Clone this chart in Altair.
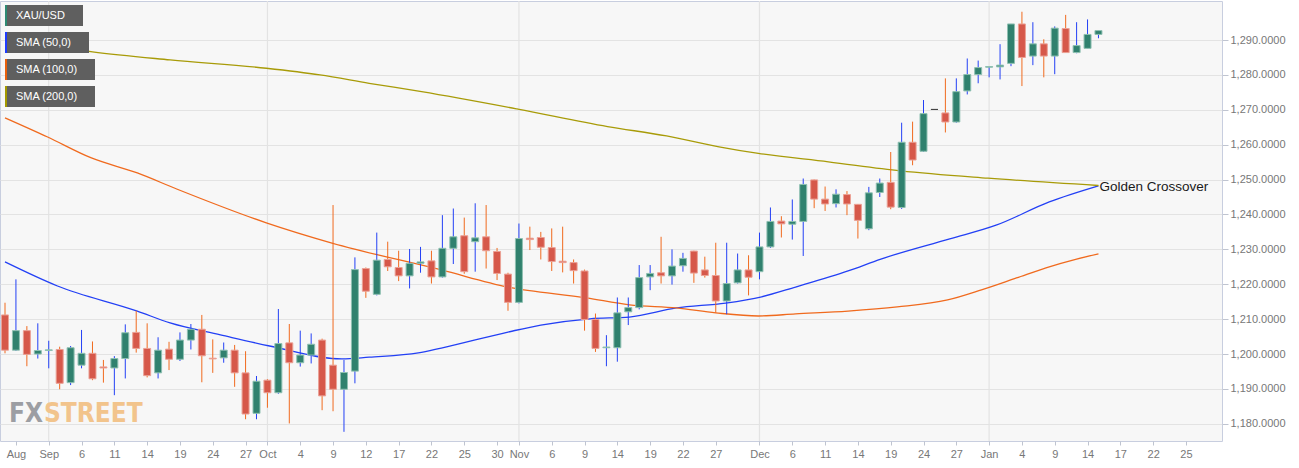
import altair as alt
import pandas as pd

# ---------------- data ----------------
# candle index = weekday count starting Tue 28 Aug 2018 (0) ... Tue 15 Jan 2019 (100)
opens = [1211.2, 1201.1, 1206.7, 1200.0, 1201.0, 1201.3, 1191.8, 1196.8, 1200.2, 1196.3,
         1196.0, 1198.7, 1206.2, 1201.6, 1194.6, 1201.4, 1198.5, 1204.0, 1207.1, 1198.8,
         1198.9, 1201.1, 1194.6, 1183.0, 1192.5, 1188.9, 1203.2, 1197.5, 1199.7, 1204.0,
         1196.8, 1189.9, 1195.1, 1224.5, 1217.1, 1227.1, 1224.8, 1222.4, 1226.0, 1226.7,
         1222.1, 1230.3, 1233.9, 1232.2, 1233.6, 1229.4, 1222.9, 1214.8, 1233.2, 1233.4,
         1230.5, 1226.6, 1226.2, 1223.8, 1209.9, 1201.8, 1201.8, 1212.1, 1213.3, 1222.1,
         1223.3, 1222.4, 1225.3, 1229.5, 1224.1, 1222.5, 1215.2, 1220.4, 1224.1, 1223.6,
         1230.7, 1238.1, 1237.2, 1238.0, 1249.9, 1244.4, 1243.1, 1245.7, 1242.9, 1235.9,
         1246.3, 1249.2, 1242.0, 1260.7, 1258.1, 1270.1, 1269.1, 1266.5, 1275.4, 1280.1,
         1282.2, 1282.3, 1283.3, 1294.6, 1285.4, 1288.9, 1285.4, 1293.3, 1286.4, 1287.6,
         1291.6]
highs = [1214.7, 1221.4, 1208.0, 1208.8, 1203.8, 1202.1, 1202.3, 1206.9, 1203.6, 1198.3,
         1199.4, 1208.5, 1212.4, 1208.8, 1204.8, 1203.5, 1206.2, 1208.6, 1211.2, 1204.2,
         1203.3, 1202.6, 1200.8, 1193.7, 1192.8, 1212.9, 1208.6, 1206.7, 1205.9, 1204.4,
         1242.7, 1198.3, 1227.7, 1224.8, 1234.8, 1232.2, 1229.6, 1230.1, 1230.7, 1229.6,
         1239.8, 1241.7, 1239.1, 1243.2, 1242.7, 1230.4, 1223.3, 1237.4, 1236.5, 1235.0,
         1236.0, 1236.5, 1227.1, 1224.2, 1211.6, 1205.4, 1216.2, 1216.2, 1225.5, 1225.5,
         1233.6, 1230.0, 1229.0, 1229.6, 1227.9, 1231.9, 1231.9, 1228.8, 1228.3, 1234.8,
         1242.0, 1239.5, 1244.3, 1250.3, 1250.0, 1248.0, 1247.2, 1246.7, 1243.0, 1247.9,
         1250.3, 1257.9, 1266.3, 1266.6, 1272.8, 1270.1, 1279.0, 1279.0, 1284.7, 1284.1,
         1282.5, 1288.8, 1294.6, 1298.1, 1295.1, 1290.2, 1293.9, 1297.2, 1295.1, 1295.9,
         1292.7]
lows = [1200.2, 1200.9, 1196.5, 1198.7, 1195.9, 1189.9, 1191.1, 1195.9, 1192.5, 1191.8,
        1188.2, 1193.0, 1200.4, 1193.3, 1193.0, 1195.4, 1198.0, 1201.3, 1191.9, 1194.6,
        1197.5, 1190.6, 1181.3, 1181.3, 1184.6, 1188.6, 1180.1, 1196.4, 1197.3, 1183.9,
        1183.6, 1177.7, 1191.6, 1216.1, 1216.8, 1223.8, 1220.9, 1218.8, 1223.3, 1220.2,
        1221.9, 1225.8, 1223.0, 1223.6, 1224.5, 1221.2, 1212.4, 1214.5, 1229.8, 1227.1,
        1223.8, 1223.4, 1220.2, 1206.7, 1200.6, 1196.5, 1197.8, 1208.3, 1212.8, 1218.3,
        1220.2, 1219.9, 1223.6, 1220.4, 1221.9, 1211.8, 1211.4, 1220.2, 1216.8, 1221.4,
        1230.4, 1233.4, 1232.8, 1228.1, 1241.8, 1241.0, 1242.0, 1239.8, 1233.1, 1235.5,
        1245.0, 1241.5, 1241.6, 1254.1, 1257.9, 1270.1, 1263.5, 1266.3, 1274.4, 1277.6,
        1279.3, 1278.7, 1282.5, 1276.8, 1282.8, 1279.3, 1280.2, 1286.4, 1286.2, 1287.6,
        1290.5]
closes = [1201.1, 1206.7, 1199.9, 1201.0, 1201.2, 1191.6, 1201.8, 1200.2, 1192.9, 1196.0,
          1198.7, 1206.1, 1201.6, 1193.8, 1201.1, 1198.5, 1204.0, 1207.1, 1199.5, 1198.6,
          1201.1, 1194.6, 1182.8, 1192.2, 1188.9, 1203.0, 1197.5, 1199.7, 1202.8, 1188.0,
          1189.9, 1194.7, 1224.2, 1218.0, 1226.9, 1225.0, 1222.4, 1226.0, 1226.4, 1222.1,
          1230.3, 1233.6, 1223.6, 1233.3, 1229.6, 1223.1, 1214.8, 1233.1, 1232.8, 1230.6,
          1226.5, 1226.2, 1223.9, 1209.9, 1201.6, 1202.0, 1211.8, 1213.3, 1221.9, 1223.1,
          1222.4, 1225.2, 1227.4, 1223.2, 1222.5, 1215.2, 1220.2, 1224.1, 1222.0, 1230.7,
          1238.0, 1237.3, 1238.0, 1248.6, 1244.4, 1243.0, 1245.8, 1243.0, 1238.3, 1246.2,
          1249.0, 1242.1, 1260.7, 1255.6, 1268.9, 1270.1, 1266.5, 1275.2, 1280.1, 1282.1,
          1282.4, 1282.8, 1294.6, 1285.0, 1288.9, 1285.4, 1293.4, 1286.4, 1288.4, 1291.6,
          1292.7]

sma50_idx = [0, 4.8, 12.1, 15.1, 19.7, 24.2, 30.8, 33.3, 37.8, 39.9, 46.0, 49.0, 53.5,
             57.1, 61.4, 65.9, 69.2, 72.3, 77.1, 80.1, 86.4, 90.7, 95.5, 100]
sma50_val = [1226.4, 1219.5, 1212.3, 1208.9, 1205.5, 1202.3, 1198.6, 1199.1, 1200.3, 1201.7,
             1206.3, 1208.3, 1210.1, 1210.6, 1213.2, 1214.6, 1216.4, 1219.2, 1223.8, 1227.2,
             1233.0, 1237.0, 1243.6, 1248.2]

sma100_idx = [0, 3.9, 7.9, 12.1, 15.7, 23.9, 29.9, 39.9, 46.0, 53.2, 57.1, 61.4, 65.0,
              68.9, 72.3, 77.1, 81.6, 86.2, 89.3, 92.5, 95.2, 98.0, 100]
sma100_val = [1267.7, 1262.2, 1256.2, 1251.9, 1247.3, 1237.6, 1231.8, 1224.1, 1219.2, 1216.1,
              1214.1, 1213.2, 1211.8, 1210.9, 1211.5, 1212.3, 1213.5, 1215.5, 1218.4, 1221.8,
              1224.7, 1227.2, 1228.7]

sma200_idx = [0, 8.0, 15.1, 23.9, 28.8, 33.3, 38.1, 46.9, 55.1, 60.5, 65.3, 68.9, 75.3,
              81.9, 89.9, 100]
sma200_val = [1290.5, 1286.6, 1284.3, 1281.9, 1280.0, 1277.6, 1275.2, 1270.2, 1265.2, 1262.5,
              1259.4, 1257.5, 1255.1, 1252.5, 1250.4, 1248.3]

tick_idx = [1, 4, 7, 10, 13, 16, 19, 22, 24, 27, 30, 33, 36, 39, 42, 45, 47, 50, 53, 56,
            59, 62, 65, 69, 72, 75, 78, 81, 84, 87, 90, 93, 96, 99, 102, 105, 108]
tick_lbl = ["Aug", "Sep", "6", "11", "14", "19", "24", "27", "Oct", "4", "9", "12", "17",
            "22", "25", "30", "Nov", "6", "9", "14", "19", "22", "27", "Dec", "6", "11", "14",
            "19", "24", "27", "Jan", "4", "9", "14", "17", "22", "25"]
month_idx = [4, 24, 47, 69, 90]
y_ticks = [1180, 1190, 1200, 1210, 1220, 1230, 1240, 1250, 1260, 1270, 1280, 1290]

legend_names = ["XAU/USD", "SMA (50,0)", "SMA (100,0)", "SMA (200,0)"]
legend_colors = ["#2e8a73", "#1f3cff", "#e8600c", "#a39800"]

# ---------------- tables ----------------
def direction(o, c):
    if c > o:
        return "up"
    if c < o:
        return "down"
    return "flat"

candles = pd.DataFrame({
    "i": list(range(len(opens))),
    "o": opens, "h": highs, "l": lows, "c": closes,
})
candles["bot"] = candles[["o", "c"]].min(axis=1)
candles["top"] = candles[["o", "c"]].max(axis=1)
candles["dir"] = [direction(o, c) for o, c in zip(opens, closes)]

sma = pd.concat([
    pd.DataFrame({"i": sma50_idx, "p": sma50_val, "s": "SMA50"}),
    pd.DataFrame({"i": sma100_idx, "p": sma100_val, "s": "SMA100"}),
    pd.DataFrame({"i": sma200_idx, "p": sma200_val, "s": "SMA200"}),
])
months = pd.DataFrame({"i": month_idx})
note = pd.DataFrame({"i": [sma50_idx[-1]], "p": [sma50_val[-1]], "t": ["Golden Crossover"]})

# ---------------- scales / axes ----------------
W, H = 1222, 440
xs = alt.Scale(domain=[0, 110.84], nice=False, zero=False)
ys = alt.Scale(domain=[1175.07, 1301.18], nice=False, zero=False)

label_expr = "{}[indexof({}, datum.value)]".format(
    "[" + ",".join("'" + s + "'" for s in tick_lbl) + "]",
    "[" + ",".join(str(v) for v in tick_idx) + "]",
)
xaxis = alt.Axis(values=tick_idx, labelExpr=label_expr, title=None, grid=False, domain=False,
                 tickSize=4, tickColor="#bfc4d0", labelColor="#777777", labelFontSize=11,
                 labelFont="Liberation Sans", labelPadding=3, labelFlush=False, labelOverlap=False)
yaxis = alt.Axis(values=y_ticks, format=",.4f", orient="right", title=None, grid=True,
                 gridColor="#e3e3e3", domain=False, tickSize=6, tickColor="#bfc4d0",
                 labelColor="#777777", labelFontSize=11, labelFont="Liberation Sans",
                 labelPadding=2)

def X(f):
    return alt.X(f, type="quantitative", scale=xs, axis=xaxis)

def Y(f):
    return alt.Y(f, type="quantitative", scale=ys, axis=yaxis)

dir_dom = ["up", "down", "flat"]
fill_sc = alt.Scale(domain=dir_dom, range=["#30816e", "#d6584a", "#444444"])
edge_sc = alt.Scale(domain=dir_dom, range=["#8fc0b2", "#eba195", "#444444"])

grid_v = alt.Chart(months).mark_rule(color="#e3e3e3", strokeWidth=1.2).encode(
    x=X("i"), y=alt.value(0), y2=alt.value(H))

lines = alt.Chart(sma).mark_line(strokeWidth=1.3, interpolate="monotone", clip=True).encode(
    x=X("i"), y=Y("p"),
    color=alt.Color("s:N", scale=alt.Scale(domain=["SMA50", "SMA100", "SMA200"],
                                            range=["#2340f5", "#f06a1e", "#a89b08"]),
                    legend=None),
    detail="s:N")

wicks = alt.Chart(candles).mark_rule(strokeWidth=1, clip=True).encode(
    x=X("i"), y=Y("l"), y2="h:Q",
    color=alt.Color("dir:N", scale=fill_sc, legend=None))

bodies = alt.Chart(candles).mark_bar(size=7, strokeWidth=1, clip=True).encode(
    x=X("i"), y=Y("bot"), y2="top:Q",
    fill=alt.Fill("dir:N", scale=fill_sc, legend=None),
    stroke=alt.Stroke("dir:N", scale=edge_sc, legend=None))

note_txt = alt.Chart(note).mark_text(align="left", baseline="middle", dx=1, dy=1,
                                     fontSize=13.5, font="Liberation Sans", color="#1a1a1a").encode(
    x=X("i"), y=Y("p"), text="t:N")

one = pd.DataFrame({"k": [0]})
deco = []
# legend boxes (top-left)
box_right = [83, 89, 95, 95]
for k, (name, col) in enumerate(zip(legend_names, legend_colors)):
    top = 4 + 27 * k
    deco.append(alt.Chart(one).mark_rect(color="#5f5f5f").encode(
        x=alt.value(5), x2=alt.value(box_right[k]), y=alt.value(top), y2=alt.value(top + 21)))
    deco.append(alt.Chart(one).mark_rect(color=col).encode(
        x=alt.value(5), x2=alt.value(7), y=alt.value(top), y2=alt.value(top + 21)))
    deco.append(alt.Chart(one).mark_text(align="left", baseline="middle", fontSize=11,
                                         font="Liberation Sans", color="white").encode(
        x=alt.value(16), y=alt.value(top + 11), text=alt.value(name)))

# watermark: "FX" ends where "STREET" begins
wm_font = "Liberation Sans Narrow, DejaVu Sans Condensed, Roboto Condensed, sans-serif"
mark_fx = alt.Chart(one).mark_text(align="right", baseline="alphabetic", fontSize=26,
                                   fontWeight="bold", font=wm_font, color="#9c9ea3").encode(
    x=alt.value(43), y=alt.value(421), text=alt.value("FX"))
mark_st = alt.Chart(one).mark_text(align="left", baseline="alphabetic", fontSize=26,
                                   fontWeight="bold", font=wm_font, color="#f2c48c").encode(
    x=alt.value(44), y=alt.value(421), text=alt.value("STREET"))

chart = alt.layer(grid_v, mark_fx, mark_st, lines, wicks, bodies, note_txt, *deco).properties(
    width=W, height=H,
    padding={"left": 0, "top": 1, "right": 77, "bottom": 27},
    autosize=alt.AutoSizeParams(type="none"),
    background="white",
).configure_view(fill="#f7f7f7", stroke="#c8cedf", strokeWidth=1)

chart.save("out.html", embed_options={"renderer": "svg", "actions": False})
